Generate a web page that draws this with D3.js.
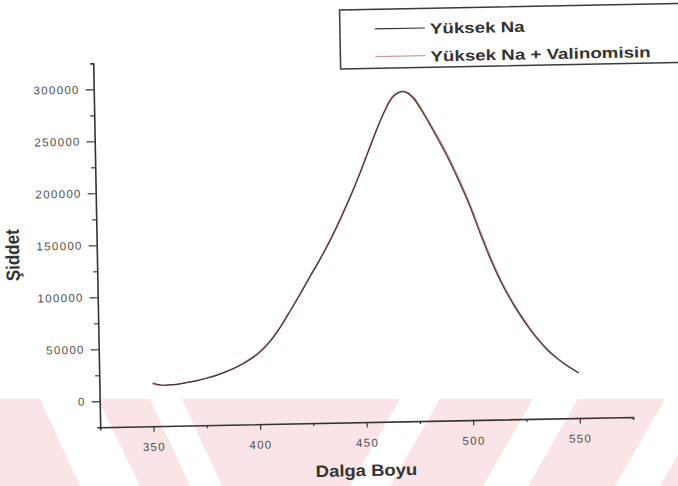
<!DOCTYPE html>
<html>
<head>
<meta charset="utf-8">
<script src="https://cdn.jsdelivr.net/npm/d3@7"></script>
<style>
  html, body { margin: 0; padding: 0; background: #fff; }
  svg { display: block; }
</style>
</head>
<body>
<svg id="chart" width="678" height="486"></svg>
<script>
// Emission spectra: wavelength (nm) vs intensity
const wavelength = [350, 355, 360, 365, 370, 375, 380, 385, 390, 395,
                    400, 405, 410, 415, 420, 425, 430, 435, 440, 445,
                    450, 455, 460, 465, 470, 475, 480, 485, 490, 495,
                    500, 505, 510, 515, 520, 525, 530, 535, 540, 545, 550];
const yuksekNa = [16500, 14200, 14500, 16000, 17600, 19900, 22700, 26300, 30600, 36100,
                  43100, 53100, 66500, 82500, 99200, 116500, 133500, 152000, 172500, 194500,
                  218500, 244000, 268000, 286500, 292000, 285000, 268500, 249500, 229500, 207000,
                  182500, 154000, 127000, 104000, 85000, 68500, 54000, 42000, 32500, 24800, 18300];
const yuksekNaValinomisin = [15800, 14000, 14600, 15800, 17800, 20300, 23000, 26600, 31000, 36800,
                  43900, 53900, 67300, 83200, 100000, 117300, 134300, 153000, 173500, 195500,
                  219500, 245000, 269000, 287500, 292600, 286500, 270000, 251500, 232000, 209500,
                  185000, 156500, 129500, 106000, 86500, 69800, 55000, 42800, 33000, 25200, 18500];
const seriesNames = ["Yüksek Na", "Yüksek Na + Valinomisin"];
const seriesColors = ["#2e2a2c", "#c97a7a"];

const xTicks = [350, 400, 450, 500, 550];
const xMinorTicks = [375, 425, 475, 525];
const yTicks = [0, 50000, 100000, 150000, 200000, 250000, 300000];
const yMinorTicks = [25000, 75000, 125000, 175000, 225000, 275000];
const xDomain = [325, 575];
const yDomain = [-25000, 325000];

const svg = d3.select("#chart");

// pale striped band along the bottom of the page
const band = svg.append("g");
band.append("rect").attr("x", 0).attr("y", 399).attr("width", 678).attr("height", 87)
  .attr("fill", "#fbe4e7");
const bandGaps = [
  [[40, 399], [98, 399], [140, 486], [80, 486]],
  [[150, 399], [182, 399], [222, 486], [190, 486]],
  [[400, 399], [440, 399], [390, 486], [350, 486]],
  [[533, 399], [578, 399], [528, 486], [483, 486]],
  [[665, 399], [710, 399], [660, 486], [615, 486]]
];
band.selectAll("polygon").data(bandGaps).join("polygon")
  .attr("points", d => d.map(p => p.join(",")).join(" "))
  .attr("fill", "#ffffff");

// the whole plot sits slightly tilted on the page
const g = svg.append("g").attr("transform", "rotate(-1.1, 339, 243)");

const plotLeft = 96.7, plotRight = 629.6, plotTop = 58.6, plotBottom = 422.6;
const x = d3.scaleLinear().domain(xDomain).range([plotLeft, plotRight]);
const y = d3.scaleLinear().domain(yDomain).range([plotBottom, plotTop]);

const ink = "#333";
const tickText = "#4d4d4d";

// minor ticks
g.append("g").attr("transform", `translate(0,${plotBottom})`)
  .call(d3.axisBottom(x).tickValues(xMinorTicks).tickSize(3).tickFormat(""))
  .call(a => a.select(".domain").remove())
  .call(a => a.selectAll("line").attr("stroke", ink).attr("stroke-width", 1.2));
g.append("g").attr("transform", `translate(${plotLeft},0)`)
  .call(d3.axisLeft(y).tickValues(yMinorTicks).tickSize(4).tickFormat(""))
  .call(a => a.select(".domain").remove())
  .call(a => a.selectAll("line").attr("stroke", ink).attr("stroke-width", 1.2));

// major axes
const xAxis = g.append("g").attr("transform", `translate(0,${plotBottom})`)
  .call(d3.axisBottom(x).tickValues(xTicks).tickFormat(d3.format("d"))
    .tickSize(5.5).tickSizeOuter(3).tickPadding(11));
const yAxis = g.append("g").attr("transform", `translate(${plotLeft},0)`)
  .call(d3.axisLeft(y).tickValues(yTicks).tickFormat(d3.format("d"))
    .tickSize(8).tickSizeOuter(3).tickPadding(6));

[xAxis, yAxis].forEach(a => {
  a.select(".domain").attr("stroke", ink).attr("stroke-width", 1.6);
  a.selectAll(".tick line").attr("stroke", ink).attr("stroke-width", 1.2);
  a.selectAll(".tick text")
    .attr("fill", tickText)
    .style("font-family", "'Liberation Sans', Arial, sans-serif")
    .style("font-size", "11.5px")
    .style("letter-spacing", "1.3px");
});

// series lines
const line = d3.line()
  .x((d, i) => x(wavelength[i]))
  .y(d => y(d))
  .curve(d3.curveMonotoneX);

g.append("path").datum(yuksekNaValinomisin)
  .attr("fill", "none").attr("stroke", seriesColors[1]).attr("stroke-width", 1.3)
  .attr("d", line);
g.append("path").datum(yuksekNa)
  .attr("fill", "none").attr("stroke", seriesColors[0]).attr("stroke-width", 1.2)
  .attr("opacity", 0.9)
  .attr("d", line);

// axis titles
g.append("text")
  .attr("transform", `translate(${(plotLeft + plotRight) / 2 - 1},476.5) scale(1.12,1)`)
  .attr("text-anchor", "middle")
  .attr("fill", ink)
  .style("font-family", "'Liberation Sans', Arial, sans-serif")
  .style("font-size", "16.5px").style("font-weight", "bold")
  .text("Dalga Boyu");
g.append("text")
  .attr("transform", "translate(19,249) rotate(-90) scale(1,1.12)")
  .attr("text-anchor", "middle")
  .attr("fill", ink)
  .style("font-family", "'Liberation Sans', Arial, sans-serif")
  .style("font-size", "17px").style("font-weight", "bold")
  .text("Şiddet");

// legend
const legend = g.append("g");
legend.append("rect")
  .attr("x", 344).attr("y", 10).attr("width", 350).attr("height", 59)
  .attr("fill", "#fff").attr("stroke", "#3a3a3a").attr("stroke-width", 1.5);
const rows = legend.selectAll("g.row").data(seriesNames).join("g")
  .attr("class", "row")
  .attr("transform", (d, i) => `translate(0,${i * 27.7})`);
rows.append("line")
  .attr("x1", 379).attr("x2", 429).attr("y1", 29.7).attr("y2", 29.7)
  .attr("stroke", (d, i) => i === 0 ? "#333" : "#d49a9a").attr("stroke-width", 1.2);
rows.append("text")
  .attr("transform", "translate(434,35.5) scale(1.25,1)")
  .attr("fill", ink)
  .style("font-family", "'Liberation Sans', Arial, sans-serif")
  .style("font-size", "15px").style("font-weight", "bold")
  .text(d => d);
</script>
</body>
</html>
